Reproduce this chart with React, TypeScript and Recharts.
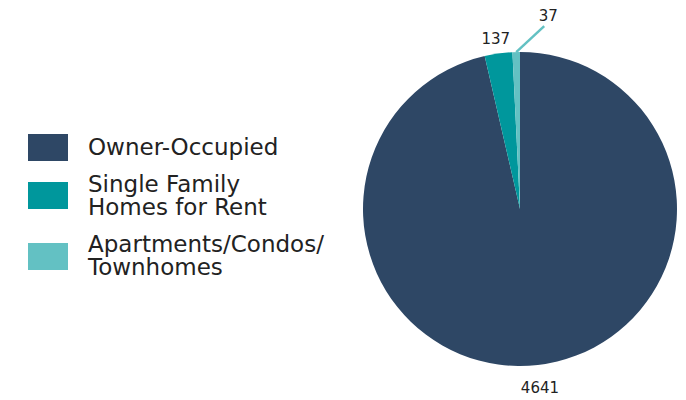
import React from "react";
import { PieChart, Pie, Cell, Legend } from "recharts";

const categories = ["Owner-Occupied", "Single Family Homes for Rent", "Apartments/Condos/ Townhomes"];
const legendLines = [["Owner-Occupied"], ["Single Family", "Homes for Rent"], ["Apartments/Condos/", "Townhomes"]];
const values = [4641, 137, 37];
const colors = ["#2e4765", "#00979c", "#63c1c3"];

const data = categories.map((name, i) => ({ name, value: values[i] }));

const RAD = Math.PI / 180;
const FONT = "'DejaVu Sans', sans-serif";

const renderLabel = (props: any) => {
  const { cx, cy, midAngle, outerRadius, value, index } = props;
  const cos = Math.cos(-midAngle * RAD);
  const sin = Math.sin(-midAngle * RAD);
  if (index === 2) {
    const sx = cx + outerRadius * cos;
    const sy = cy + outerRadius * sin;
    const ex = sx + 28;
    const ey = sy - 26;
    return (
      <g>
        <line x1={sx} y1={sy} x2={ex} y2={ey} stroke={colors[2]} strokeWidth={2.5} />
        <text x={ex + 4} y={ey - 10} textAnchor="middle" dominantBaseline="central" fill="#222" fontSize={15} fontFamily={FONT}>
          {value}
        </text>
      </g>
    );
  }
  const r = outerRadius + 19;
  const x = cx + r * cos;
  const y = cy + r * sin + 4;
  return (
    <text x={x} y={y} textAnchor="middle" dominantBaseline="central" fill="#222" fontSize={15} fontFamily={FONT}>
      {value}
    </text>
  );
};

const itemMargins = [11.5, 14.5, 0];

const renderLegend = () => (
  <div style={{ fontFamily: FONT, color: "#222" }}>
    {legendLines.map((lines, i) => (
      <div key={i} style={{ display: "flex", alignItems: "center", marginBottom: itemMargins[i] }}>
        <div style={{ width: 40, height: 27, background: colors[i], marginRight: 20, flexShrink: 0 }} />
        <div style={{ fontSize: 23, lineHeight: "23px" }}>
          {lines.map((l, j) => (
            <div key={j}>{l}</div>
          ))}
        </div>
      </div>
    ))}
  </div>
);

export default function App() {
  return (
    <div style={{ position: "absolute", left: 0, top: 0, width: 686, height: 400, background: "#fff" }}>
      <PieChart width={686} height={400} margin={{ top: 0, right: 0, bottom: 0, left: 0 }}>
        <Legend
          layout="vertical"
          align="right"
          verticalAlign="middle"
          content={renderLegend}
          wrapperStyle={{ position: "absolute", left: 28, top: 134, width: 330, right: "auto", bottom: "auto" }}
        />
        <Pie
          data={data}
          dataKey="value"
          nameKey="name"
          cx={520}
          cy={209}
          outerRadius={157}
          startAngle={90}
          endAngle={-270}
          stroke="none"
          label={renderLabel}
          labelLine={false}
          isAnimationActive={false}
        >
          {data.map((d, i) => (
            <Cell key={d.name} fill={colors[i]} />
          ))}
        </Pie>
      </PieChart>
    </div>
  );
}
